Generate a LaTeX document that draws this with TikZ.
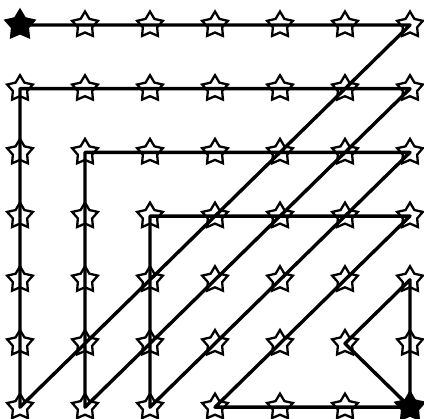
\documentclass[tikz,border=0pt]{standalone}
\usetikzlibrary{shapes.geometric}

\begin{document}
\begin{tikzpicture}[
  x=1pt, y=-1pt,
  pt/.style={star, star points=5, star point ratio=1.8, draw, line width=2.3pt, fill=white, minimum size=27pt, inner sep=0pt},
  ends/.style={pt, fill=black, minimum size=30pt},
  trail/.style={line width=3.4pt, line cap=round, line join=round}
]
\useasboundingbox (0,0) rectangle (424,419);

% 7 x 7 grid of stars, the two ends filled
\foreach \c in {0,...,6}{
  \foreach \r in {0,...,6}{
    \def\sty{pt}
    \ifnum\c=\r \ifnum\c=0 \def\sty{ends}\fi \ifnum\c=6 \def\sty{ends}\fi\fi
    \node[\sty] (p\c\r) at ({20+65*\c},{25+63.7*\r}) {};
  }
}

% the walk through all stars
\draw[trail] (p00.center) -- (p60.center) -- (p06.center) -- (p01.center)
  -- (p61.center) -- (p16.center) -- (p12.center) -- (p62.center)
  -- (p26.center) -- (p23.center) -- (p63.center) -- (p36.center)
  -- (p66.center) -- (p64.center) -- (p55.center) -- (p66.center);

\end{tikzpicture}
\end{document}
